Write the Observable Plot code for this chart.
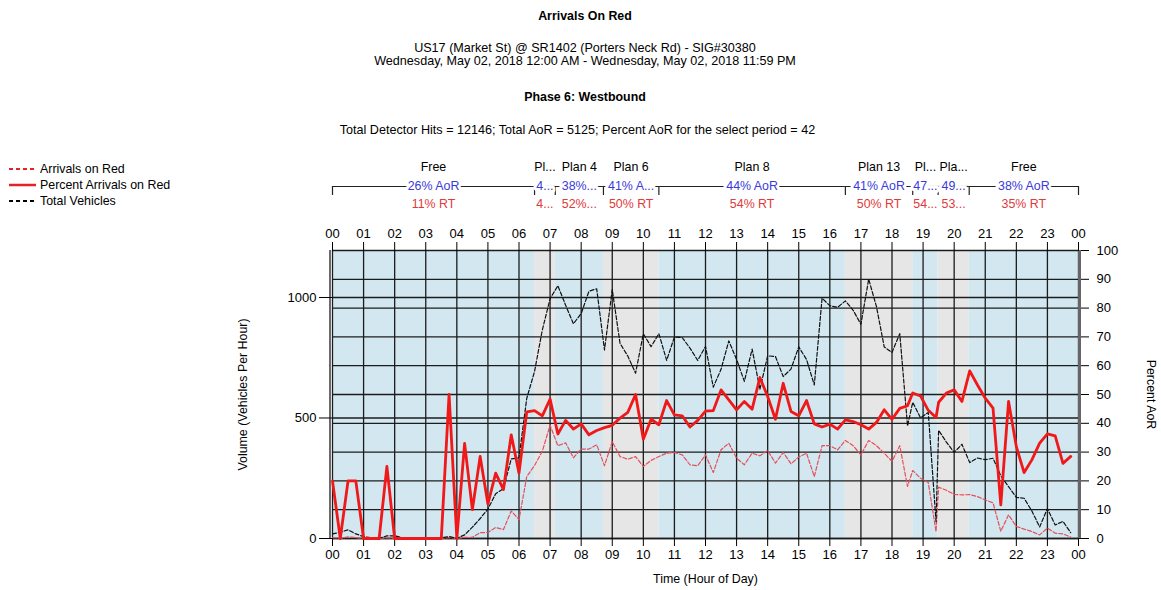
<!DOCTYPE html>
<html><head><meta charset="utf-8">
<script src="https://cdn.jsdelivr.net/npm/d3@7"></script>
<script src="https://cdn.jsdelivr.net/npm/@observablehq/plot@0.6"></script>
<style>
body{margin:0;background:#fff;font-family:"Liberation Sans",Arial,sans-serif;}
#wrap{position:relative;width:1161px;height:590px;overflow:hidden;background:#fff;}
.t{position:absolute;left:0;width:1170px;text-align:center;font-size:12.6px;line-height:14px;color:#000;white-space:nowrap;}
.b{font-weight:bold;font-size:12.4px;}
.layer{position:absolute;left:0;}
.lg{position:absolute;left:8px;font-size:12.4px;line-height:14px;color:#000;white-space:nowrap;display:flex;align-items:center;}
.lg svg{margin-right:2px;}
</style></head>
<body>
<div id="wrap">
  <div class="t b" style="top:9px">Arrivals On Red</div>
  <div class="t" style="top:41px">US17 (Market St) @ SR1402 (Porters Neck Rd) - SIG#30380</div>
  <div class="t" style="top:54px">Wednesday, May 02, 2018 12:00 AM - Wednesday, May 02, 2018 11:59 PM</div>
  <div class="t b" style="top:90px">Phase 6: Westbound</div>
  <div class="t" style="top:123px;width:1155px">Total Detector Hits = 12146; Total AoR = 5125; Percent AoR for the select period = 42</div>
</div>
<script>
// ---------------- data ----------------
const times = [
"00:00","00:15","00:30","00:45","01:00","01:15","01:30","01:45",
"02:00","02:15","02:30","02:45","03:00","03:15","03:30","03:45",
"04:00","04:15","04:30","04:45","05:00","05:15","05:30","05:45",
"06:00","06:15","06:30","06:45","07:00","07:15","07:30","07:45",
"08:00","08:15","08:30","08:45","09:00","09:15","09:30","09:45",
"10:00","10:15","10:30","10:45","11:00","11:15","11:30","11:45",
"12:00","12:15","12:30","12:45","13:00","13:15","13:30","13:45",
"14:00","14:15","14:30","14:45","15:00","15:15","15:30","15:45",
"16:00","16:15","16:30","16:45","17:00","17:15","17:30","17:45",
"18:00","18:15","18:30","18:40","18:55","19:10","19:25","19:30","19:45",
"20:00","20:15","20:30","20:45","21:00","21:15","21:30","21:45",
"22:00","22:15","22:30","22:45","23:00","23:15","23:30","23:45"];

const totalVehicles = [
19,26,36,19, 8,3,1,11,
11,3,1,0, 0,2,3,8,
1,15,47,83, 122,186,207,330,
335,582,693,865, 995,1049,968,891,
933,1026,1036,782, 1033,810,757,686,
849,796,850,739, 836,834,790,739,
797,628,702,820, 743,652,786,619,
758,755,672,703, 795,743,637,997,
966,959,986,947, 889,1076,962,795,
772,850,467, 565,501,523,70, 449,400,
357,391,315,334, 327,333,260,215,
171,167,114,48, 124,56,71,24];

const arrivalsOnRed = [
4,0,7,4, 0,0,0,3,
0,0,0,0, 0,0,0,4,
0,5,5,24, 25,46,37,114,
78,257,303,362, 470,385,397,335,
371,371,389,302, 402,340,329,340,
299,324,340,354, 357,347,306,302,
347,274,368,395, 333,306,354,343,
365,313,357,310, 338,354,257,385,
385,368,407,385, 347,407,385,354,
320,385,216, 282,250,232,29, 213,200,
183,181,182,174, 160,148,30,98,
50,39,29,15, 43,22,19,6];

const percentAoR = [
20,0,20,20, 0,0,0,25,
0,0,0,0, 0,0,0,50,
0,33,10,28.5, 12,22.7,17,36,
22.7,44,44.4,42.6, 48.4,36.3,41,38,
39.8,36,37.5,38.5, 39.3,41.8,43.8,50,
34.5,41.4,39.5,47.9, 42.9,42.6,38.7,41,
44.2,44.4,51.6,48.1, 44.7,47.6,44.9,55.9,
49.3,41.4,53.9,44.1, 42.6,47.9,39.8,38.7,
39.7,38,41.2,40.6, 39.5,38,40.3,44.7,
41.4,45.2,46.1, 50.5,49.5,44.5,42, 47.3,50.5,
51.6,47.6,58.2,53.3, 48.7,45.3,11.7,47.6,
31.9,22.9,27.3,33.1, 36.3,35.6,26.1,28.5];

const planNames  = ["Free","Pl...","Plan 4","Plan 6","Plan 8","Plan 13","Pl...","Pla...","Free"];
const planAoR    = ["26% AoR","4...","38%...","41% A...","44% AoR","41% AoR","47...","49...","38% AoR"];
const planRT     = ["11% RT","4...","52%...","50% RT","54% RT","50% RT","54...","53...","35% RT"];
const planStarts = ["00:00","06:30","07:10","08:43","10:30","16:30","18:40","19:29","20:29"];
const dayEnd = "24:00";

const hourTicks = d3.range(0, 25);
const volumeTicks = [0, 500, 1000];
const percentTicks = [0,10,20,30,40,50,60,70,80,90,100];
const volumeMax = 1195;

const legendItems = [
  {label: "Arrivals on Red", color: "#e8202a", dash: "4,3", width: 2},
  {label: "Percent Arrivals on Red", color: "#e8202a", dash: null, width: 2.5},
  {label: "Total Vehicles", color: "#000", dash: "4,3", width: 2}
];

// ---------------- build ----------------
const toH = s => { const [h, m] = s.split(":").map(Number); return h + m / 60; };
const rows = times.map((t, i) => ({h: toH(t), total: totalVehicles[i], aor: arrivalsOnRed[i], pct: percentAoR[i]}));
const plans = planNames.map((n, i) => ({
  name: n, aor: planAoR[i], rt: planRT[i],
  start: toH(planStarts[i]), end: toH(i + 1 < planStarts.length ? planStarts[i + 1] : dayEnd), i
}));
const boundaries = plans.map(p => p.start).concat([toH(dayEnd)]);

const W = 1161, FONT = '"Liberation Sans", Arial, sans-serif';
const BLUE_BG = "#d2e7f0", GRAY_BG = "#e6e6e6", GRID = "#1c1c1c";
const common = {
  width: W, height: 440, marginTop: 100, marginBottom: 52, marginLeft: 332, marginRight: 83,
  style: {background: "transparent", fontFamily: FONT, fontSize: "12px", color: "#000", overflow: "visible"},
  x: {domain: [0, 24], axis: null}
};
const hourFmt = d => String(d % 24).padStart(2, "0");

const B = Plot.plot({
  ...common,
  y: {domain: [0, 100], axis: null},
  color: {type: "identity"},
  marks: [
    Plot.rect(plans, {x1: "start", x2: "end", fill: d => d.i % 2 ? GRAY_BG : BLUE_BG}),
    Plot.ruleY(percentTicks, {stroke: GRID, strokeWidth: 1.3}),
    Plot.ruleX(hourTicks, {stroke: GRID, strokeWidth: 1.3}),
    Plot.axisY(percentTicks, {anchor: "right", tickSize: 10, tickPadding: 8, tickFormat: "d", label: null, fontSize: 13}),
    Plot.ruleX([24], {stroke: "#666", strokeWidth: 3, dx: 1}),
    Plot.text(["Percent AoR"], {text: d => d, frameAnchor: "right", textAnchor: "middle", dx: 72, rotate: 90, fontSize: 12.4})
  ]
});

const A = Plot.plot({
  ...common,
  y: {domain: [0, volumeMax], axis: null},
  marks: [
    Plot.ruleY(volumeTicks, {stroke: GRID, strokeWidth: 1.3}),
    Plot.ruleX([0], {stroke: GRID, strokeWidth: 1.3, dx: -2.5}),
    Plot.line(rows, {x: "h", y: "aor", stroke: "#e4505a", strokeWidth: 1.2, strokeDasharray: "4,2"}),
    Plot.line(rows, {x: "h", y: "total", stroke: "#111", strokeWidth: 1.2, strokeDasharray: "4,2"}),
    Plot.axisY(volumeTicks, {anchor: "left", tickSize: 13, tickPadding: 3, tickFormat: "d", label: null, fontSize: 13}),
    Plot.axisX(hourTicks, {anchor: "top", tickSize: 9, tickPadding: 4, tickFormat: hourFmt, label: null, fontSize: 13}),
    Plot.axisX(hourTicks, {anchor: "bottom", tickSize: 8, tickPadding: 3, tickFormat: hourFmt, label: null, fontSize: 13}),
    Plot.text(["Volume (Vehicles Per Hour)"], {text: d => d, frameAnchor: "left", textAnchor: "middle", dx: -89, rotate: -90, fontSize: 12.4}),
    Plot.text(["Time (Hour of Day)"], {text: d => d, frameAnchor: "bottom", textAnchor: "middle", dy: 44, fontSize: 12.4})
  ]
});

const C = Plot.plot({
  ...common,
  y: {domain: [0, 100], axis: null},
  marks: [
    Plot.line(rows, {x: "h", y: "pct", stroke: "#f01818", strokeWidth: 2.8, strokeLinejoin: "round"})
  ]
});

const D = Plot.plot({
  width: W, height: 70, marginTop: 36, marginBottom: 25, marginLeft: 332, marginRight: 83,
  style: {background: "transparent", fontFamily: FONT, fontSize: "12.4px", color: "#000", overflow: "visible"},
  x: {domain: [0, 24], axis: null},
  y: {domain: [0, 1], axis: null},
  marks: [
    Plot.ruleY(plans, {x1: "start", x2: "end", y: 1, stroke: "#222", strokeWidth: 1.2}),
    Plot.ruleX(boundaries, {y1: 0, y2: 1, stroke: "#222", strokeWidth: 1.2}),
    Plot.text(plans, {x: d => (d.start + d.end) / 2, y: 1, text: "name", dy: -19, fill: "#000"}),
    Plot.text(plans, {x: d => (d.start + d.end) / 2, y: 1, text: "aor", fill: "#3a3ad8", stroke: "white", strokeWidth: 6}),
    Plot.text(plans, {x: d => (d.start + d.end) / 2, y: 1, text: "rt", dy: 18, fill: "#e03a3a"})
  ]
});

const wrap = document.getElementById("wrap");
[B, A, C, D].forEach(el => {
  el.classList.add("layer"); el.style.top = "150px"; wrap.appendChild(el);
});

// legend
legendItems.forEach((it, i) => {
  const div = document.createElement("div");
  div.className = "lg";
  div.style.top = (162 + i * 16) + "px";
  div.innerHTML = `<svg width="30" height="14"><line x1="1" x2="28" y1="7" y2="7" stroke="${it.color}" stroke-width="${it.width}" ${it.dash ? `stroke-dasharray="${it.dash}"` : ""}/></svg><span>${it.label}</span>`;
  wrap.appendChild(div);
});
</script>
</body></html>
